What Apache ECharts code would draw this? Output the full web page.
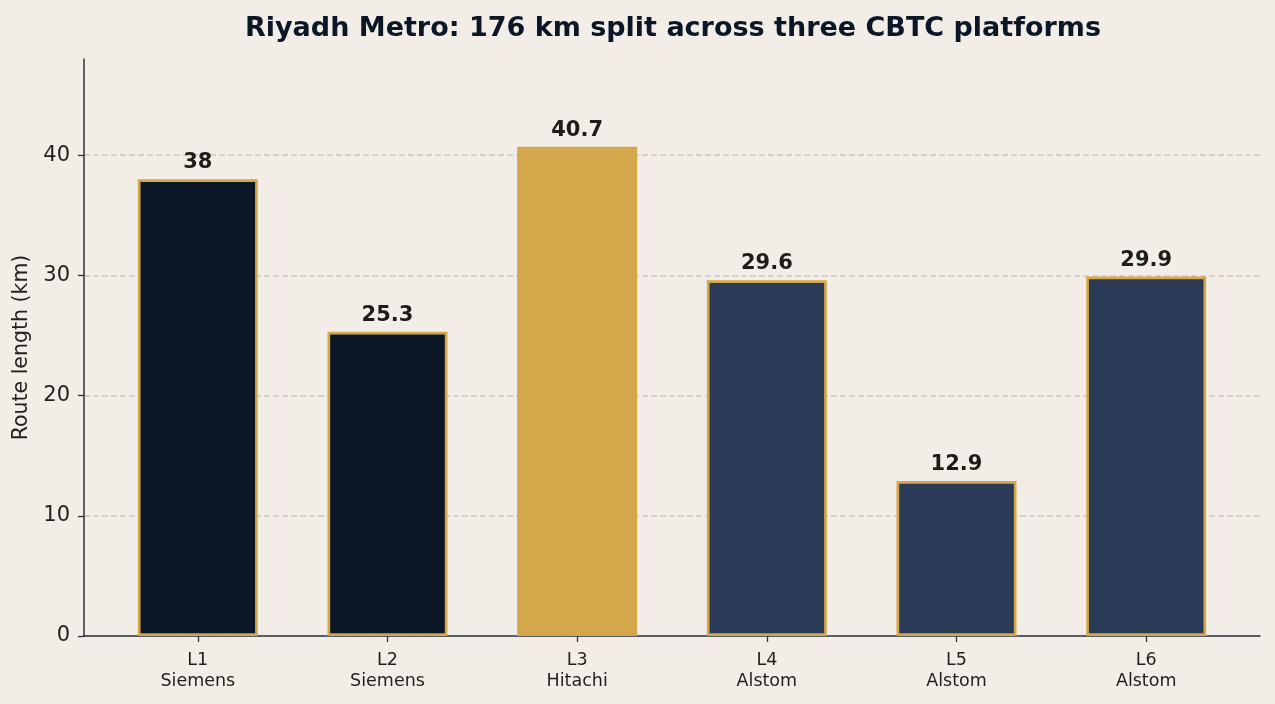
<!DOCTYPE html>
<html><head><meta charset="utf-8">
<script src="https://cdn.jsdelivr.net/npm/echarts@6/dist/echarts.min.js"></script>
<style>html,body{margin:0;padding:0;background:#f2eee7;}#c{width:1275px;height:704px;}</style>
</head><body><div id="c"></div>
<script>
const lines = ["L1","L2","L3","L4","L5","L6"];
const vendors = ["Siemens","Siemens","Hitachi","Alstom","Alstom","Alstom"];
const routeKm = [38, 25.3, 40.7, 29.6, 12.9, 29.9];
const barColors = ["#0b1627","#0b1627","#d4a74a","#2b3a56","#2b3a56","#2b3a56"];
const yTicks = [0,10,20,30,40];

const font = "DejaVu Sans";
const chart = echarts.init(document.getElementById('c'), null, {renderer:'canvas'});
chart.setOption({
  backgroundColor: '#f2eee7',
  animation: false,
  title: {
    text: 'Riyadh Metro: 176 km split across three CBTC platforms',
    left: 668, top: 10, textAlign: 'center',
    textStyle: {fontFamily: font, fontWeight: 'bold', fontSize: 27, color: '#0b1627'}
  },
  grid: {left: 84, right: 15, top: 59, bottom: 68, containLabel: false, outerBoundsMode: 'none'},
  xAxis: {
    type: 'value', min: -0.6, max: 5.6,
    splitLine: {show: false},
    axisLine: {show: true, onZero: false, lineStyle: {color: '#2d3440', width: 1.5}},
    axisTick: {show: true, customValues: [0,1,2,3,4,5], length: 6, lineStyle: {color: '#2d3440', width: 1.3}},
    axisLabel: {
      customValues: [0,1,2,3,4,5], margin: 14,
      fontFamily: font, fontSize: 17.5, color: '#1f1f1f', lineHeight: 21,
      formatter: v => { const i = Math.round(v); return lines[i] + '\n' + vendors[i]; }
    }
  },
  yAxis: {
    type: 'value', min: 0, max: 48, interval: 10,
    name: 'Route length (km)', nameLocation: 'middle', nameGap: 49, nameRotate: 90,
    nameTextStyle: {fontFamily: font, fontSize: 20.5, color: '#222'},
    axisLine: {show: true, onZero: false, lineStyle: {color: '#2d3440', width: 1.5}},
    axisTick: {show: true, customValues: yTicks, length: 6, lineStyle: {color: '#2d3440', width: 1.3}},
    axisLabel: {
      customValues: yTicks, margin: 14,
      fontFamily: font, fontSize: 21, color: '#1f1f1f'
    },
    splitLine: {show: true, lineStyle: {color: '#cdc8c0', type: [6,3], width: 1.6}}
  },
  series: [{
    type: 'bar',
    barWidth: 120,
    data: routeKm.map((v, i) => ({
      value: [i, v],
      itemStyle: {
        color: barColors[i],
        borderColor: '#d4a74a',
        borderWidth: i === 2 ? 0 : 2.7
      }
    })),
    label: {
      show: true, position: 'top', distance: 6,
      fontFamily: font, fontWeight: 'bold', fontSize: 21, color: '#1c1c1c',
      formatter: p => String(p.value[1])
    }
  }]
});
</script></body></html>
